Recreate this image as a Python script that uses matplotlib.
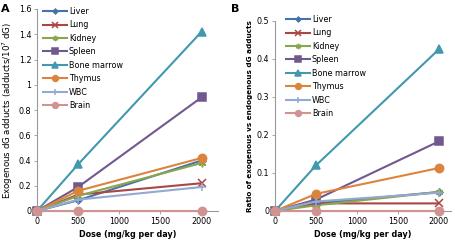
import matplotlib
matplotlib.use("Agg")
import matplotlib.pyplot as plt

dose = [0, 500, 2000]
tissues = ["Liver", "Lung", "Kidney", "Spleen", "Bone marrow", "Thymus", "WBC", "Brain"]

# panel A: exogenous dG adducts per 10^7 dG
adducts = {
    "Liver":       [0, 0.085, 0.40],
    "Lung":        [0, 0.13, 0.22],
    "Kidney":      [0, 0.12, 0.38],
    "Spleen":      [0, 0.19, 0.90],
    "Bone marrow": [0, 0.37, 1.42],
    "Thymus":      [0, 0.16, 0.42],
    "WBC":         [0, 0.09, 0.19],
    "Brain":       [0, 0.0, 0.0],
}
# panel B: ratio exogenous / endogenous
ratio = {
    "Liver":       [0, 0.02, 0.05],
    "Lung":        [0, 0.02, 0.02],
    "Kidney":      [0, 0.015, 0.05],
    "Spleen":      [0, 0.03, 0.183],
    "Bone marrow": [0, 0.12, 0.425],
    "Thymus":      [0, 0.045, 0.113],
    "WBC":         [0, 0.025, 0.048],
    "Brain":       [0, 0.0, 0.0],
}

colors = ["#4572A7", "#AA4643", "#89A54E", "#71588F", "#4198AF", "#DB843D", "#93A9CF", "#D19392"]
markers = ["D", "x", (6, 2, 0), "s", "^", "o", "+", "o"]
msizes = [3.5, 5.5, 5.5, 6, 6, 6, 6, 6]

fig = plt.figure(figsize=(4.56, 2.42), dpi=100)
axA = fig.add_axes([37 / 456, 31 / 242, 181 / 456, 202 / 242])
axB = fig.add_axes([275 / 456, 31 / 242, 176 / 456, 190 / 242])


def draw(ax, data, ylim, yticks, yticklabels, ylabel, ylabel_bold, xmax):
    for name, c, m, ms in zip(tissues, colors, markers, msizes):
        ax.plot(dose, data[name], color=c, marker=m, markersize=ms, lw=1.5,
                markeredgewidth=1.1, label=name, clip_on=False, zorder=3)
    ax.set_xlim(0, xmax)
    ax.set_ylim(*ylim)
    ax.set_xticks([0, 500, 1000, 1500, 2000])
    ax.set_yticks(yticks)
    ax.set_yticklabels(yticklabels)
    for s in ["top", "right"]:
        ax.spines[s].set_visible(False)
    for s in ["left", "bottom"]:
        ax.spines[s].set_color("#999999")
        ax.spines[s].set_linewidth(0.8)
    ax.tick_params(labelsize=5.8, length=2.5, width=0.6, color="#999999", pad=1.5)
    ax.set_xlabel("Dose (mg/kg per day)", fontsize=5.8, fontweight="bold", labelpad=3)
    ax.set_ylabel(ylabel, fontsize=5.2 if ylabel_bold else 6.2,
                  fontweight="bold" if ylabel_bold else "normal", labelpad=3)


draw(axA, adducts, (0, 1.6), [0, 0.2, 0.4, 0.6, 0.8, 1.0, 1.2, 1.4, 1.6],
     ["0", "0.2", "0.4", "0.6", "0.8", "1", "1.2", "1.4", "1.6"],
     "Exogenous dG adducts (adducts/10$^7$ dG)", False, 2200)
draw(axB, ratio, (0, 0.5), [0, 0.1, 0.2, 0.3, 0.4, 0.5],
     ["0", "0.1", "0.2", "0.3", "0.4", "0.5"],
     "Ratio of exogenous vs endogenous dG adducts", True, 2150)

for ax, x0, y0 in [(axA, 43 / 456, 1 - 7 / 242), (axB, 286 / 456, 1 - 15 / 242)]:
    ax.legend(loc="upper left", bbox_to_anchor=(x0, y0), bbox_transform=fig.transFigure,
              frameon=False, fontsize=5.8, handlelength=3.0, handletextpad=0.2,
              labelspacing=0.55, markerscale=0.7, borderaxespad=0, borderpad=0)

fig.text(1 / 456, 1 - 12 / 242, "A", fontsize=8, fontweight="bold")
fig.text(231 / 456, 1 - 12 / 242, "B", fontsize=8, fontweight="bold")

fig.savefig("out.png", dpi=100)
